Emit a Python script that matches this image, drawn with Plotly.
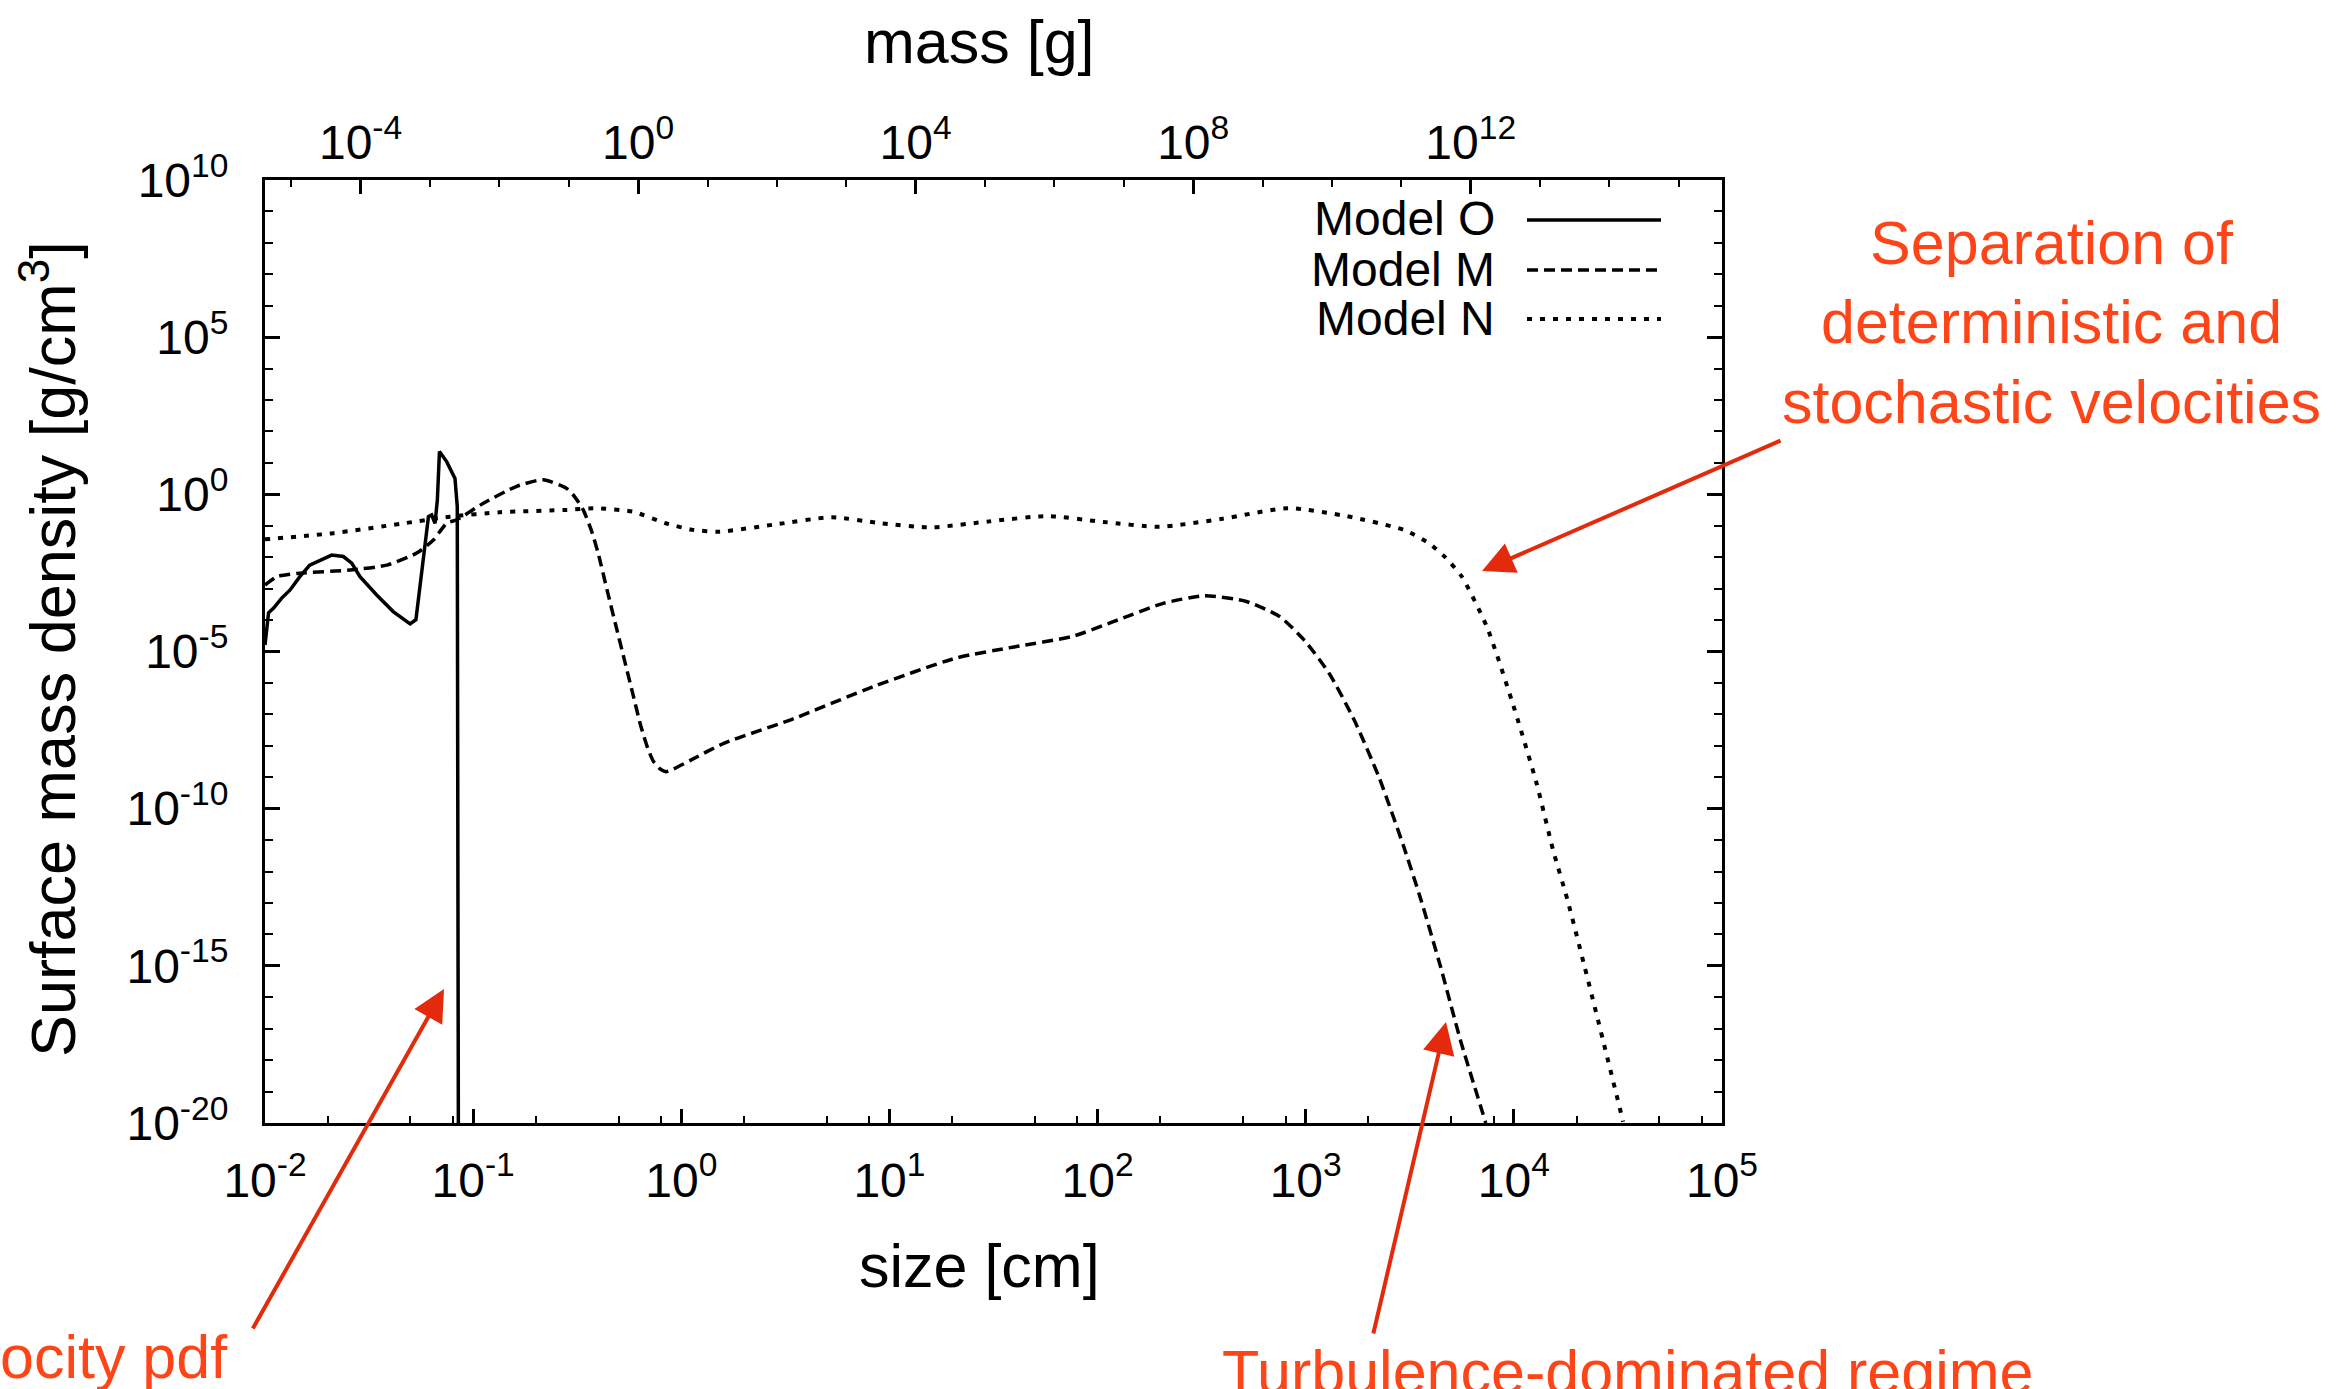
import math
import plotly.graph_objects as go

# ---------------------------------------------------------------------------
# Surface mass density vs. particle size for three models
# size in cm, surface mass density in g/cm^3
# ---------------------------------------------------------------------------
size_O = [1.00e-2, 1.04e-2, 1.10e-2, 1.20e-2, 1.32e-2, 1.47e-2, 1.64e-2, 1.84e-2,
          2.09e-2, 2.38e-2, 2.61e-2, 2.86e-2, 3.44e-2, 4.13e-2, 4.98e-2, 5.31e-2,
          5.56e-2, 5.81e-2, 6.10e-2, 6.32e-2, 6.56e-2, 6.73e-2, 6.89e-2, 7.46e-2,
          8.18e-2, 8.39e-2, 8.49e-2]
sigma_O = [1.6e-5, 1.7e-4, 2.4e-4, 4.9e-4, 9.1e-4, 2.4e-3, 5.6e-3, 8.1e-3,
           1.17e-2, 1.05e-2, 6.5e-3, 2.4e-3, 6.3e-4, 1.86e-4, 7.6e-5, 1.02e-4,
           1.15e-3, 1.7e-2, 0.195, 0.22, 0.12, 0.66, 22.9, 11.0,
           3.2, 0.41, 1e-20]

size_M = [1.00e-2, 1.14e-2, 1.47e-2, 2.56e-2, 3.85e-2, 5.36e-2, 6.44e-2, 7.46e-2,
          8.34e-2, 0.112, 0.162, 0.217, 0.281, 0.307, 0.338, 0.369,
          0.398, 0.444, 0.486, 0.533, 0.585, 0.640, 0.692, 0.735,
          0.785, 0.843, 0.912, 1.11, 1.60, 3.33, 8.36, 20.9,
          39.7, 75.5, 119, 207, 327, 519, 748, 984,
          1297, 1710, 2249, 2958, 3573, 4446, 5534, 7330]
sigma_M = [1.3e-3, 2.4e-3, 3.1e-3, 3.9e-3, 5.6e-3, 1.35e-2, 3.5e-2, 0.12,
           0.155, 0.52, 1.8, 2.9, 1.55, 0.85, 0.32, 7.4e-2,
           1.4e-2, 7.1e-4, 6.3e-5, 5.4e-6, 4.5e-7, 4.1e-8, 7.9e-9, 3.2e-9,
           1.9e-9, 1.5e-9, 1.8e-9, 3.5e-9, 1.2e-8, 6.6e-8, 7.6e-7, 6.2e-6,
           1.4e-5, 3.0e-5, 8.9e-5, 3.4e-4, 5.9e-4, 3.9e-4, 1.3e-4, 2.3e-5,
           2.0e-6, 6.6e-8, 1.0e-9, 6.2e-12, 1.3e-13, 9.3e-16, 4.4e-18, 1e-20]

size_N = [1.00e-2, 2.13e-2, 4.46e-2, 7.74e-2, 0.135, 0.282, 0.389, 0.586,
          0.843, 1.14, 1.53, 2.82, 5.28, 9.12, 15.9, 30.2,
          57.4, 107, 198, 398, 819, 1585, 2958, 3899,
          4677, 5623, 7413, 9750, 12850, 15420, 18070, 21880,
          26790, 33500]
sigma_N = [3.7e-2, 5.8e-2, 0.115, 0.195, 0.27, 0.32, 0.36, 0.28,
           0.12, 7.4e-2, 6.5e-2, 0.11, 0.186, 0.12, 8.9e-2, 0.138,
           0.204, 0.132, 9.3e-2, 0.166, 0.363, 0.20, 7.4e-2, 2.8e-2,
           1.0e-2, 2.4e-3, 6.2e-5, 2.9e-7, 6.5e-10, 4.9e-12, 1.3e-13, 9.3e-16,
           4.4e-18, 1.1e-20]

# axis ranges and ticks
size_range = (1e-2, 1e5)
sigma_range = (1e-20, 1e10)
grain_density = 1.0  # g/cm^3, converts size to mass on the top axis

size_ticks = [1e-2, 1e-1, 1e0, 1e1, 1e2, 1e3, 1e4, 1e5]
size_tick_text = ["10<sup>-2</sup>", "10<sup>-1</sup>", "10<sup>0</sup>", "10<sup>1</sup>",
                  "10<sup>2</sup>", "10<sup>3</sup>", "10<sup>4</sup>", "10<sup>5</sup>"]
mass_ticks = [1e-4, 1e0, 1e4, 1e8, 1e12]
mass_tick_text = ["10<sup>-4</sup>", "10<sup>0</sup>", "10<sup>4</sup>",
                  "10<sup>8</sup>", "10<sup>12</sup>"]
sigma_ticks = [1e-20, 1e-15, 1e-10, 1e-5, 1e0, 1e5, 1e10]
sigma_tick_text = ["10<sup>-20</sup>", "10<sup>-15</sup>", "10<sup>-10</sup>",
                   "10<sup>-5</sup>", "10<sup>0</sup>", "10<sup>5</sup>", "10<sup>10</sup>"]

model_names = ["Model O", "Model M", "Model N"]
model_dash = ["solid", "11px,6px", "5px,8px"]
model_width = [3.5, 3.5, 4]

# ---------------------------------------------------------------------------
W, H = 2342, 1389
ML, MR, MT, MB = 265, 620, 180, 266
PW, PH = W - ML - MR, H - MT - MB


def px(x):
    return (x - ML) / PW


def py(y):
    return (H - MB - y) / PH


BLACK_FONT = "Liberation Sans, Arial, Helvetica, sans-serif"
RED_TEXT = "#FF4518"
RED_ARROW = "#E42A0C"

fig = go.Figure()

fig.add_trace(go.Scatter(x=size_O, y=sigma_O, mode="lines", name=model_names[0],
                         line=dict(color="black", width=model_width[0], dash=model_dash[0]),
                         showlegend=False))
fig.add_trace(go.Scatter(x=size_M, y=sigma_M, mode="lines", name=model_names[1],
                         line=dict(color="black", width=model_width[1], dash=model_dash[1],
                                   shape="spline", smoothing=0.6),
                         showlegend=False))
fig.add_trace(go.Scatter(x=size_N, y=sigma_N, mode="lines", name=model_names[2],
                         line=dict(color="black", width=model_width[2], dash=model_dash[2],
                                   shape="spline", smoothing=0.6),
                         showlegend=False))

# carrier for the mass axis on top
mass_factor = 4.0 / 3.0 * math.pi * grain_density
mass_range = [math.log10(mass_factor) + 3 * math.log10(size_range[0]),
              math.log10(mass_factor) + 3 * math.log10(size_range[1])]
fig.add_trace(go.Scatter(x=[], y=[], xaxis="x2", yaxis="y", mode="lines",
                         showlegend=False, hoverinfo="skip"))

tick_font = dict(family=BLACK_FONT, size=48, color="black")

size_minor = [k * 10.0 ** d for d in range(-2, 5) for k in (2, 5, 8)]
mass_minor = [10.0 ** k for k in range(-5, 16)]
sigma_minor = [10.0 ** k for k in range(-19, 10)]

fig.update_layout(
    template="none",
    width=W, height=H,
    margin=dict(l=ML, r=MR, t=MT, b=MB, pad=0),
    paper_bgcolor="white", plot_bgcolor="white",
    showlegend=False,
    xaxis=dict(
        type="log", range=[math.log10(size_range[0]), math.log10(size_range[1])],
        showgrid=False, zeroline=False,
        showline=True, linecolor="black", linewidth=3, mirror=True,
        ticks="inside", ticklen=14, tickwidth=2.5, tickcolor="black",
        tickmode="array", tickvals=size_ticks, ticktext=size_tick_text,
        tickfont=tick_font, ticklabelstandoff=13,
        minor=dict(tickmode="array", tickvals=size_minor, ticks="inside",
                   ticklen=7, tickwidth=2, tickcolor="black", showgrid=False),
    ),
    xaxis2=dict(
        type="log", range=mass_range, overlaying="x", side="top", anchor="y",
        showgrid=False, zeroline=False, showline=False,
        ticks="inside", ticklen=14, tickwidth=2.5, tickcolor="black",
        tickmode="array", tickvals=mass_ticks, ticktext=mass_tick_text,
        tickfont=tick_font, ticklabelstandoff=10,
        minor=dict(tickmode="array", tickvals=mass_minor, ticks="inside",
                   ticklen=7, tickwidth=2, tickcolor="black", showgrid=False),
    ),
    yaxis=dict(
        type="log", range=[math.log10(sigma_range[0]), math.log10(sigma_range[1])],
        showgrid=False, zeroline=False,
        showline=True, linecolor="black", linewidth=3, mirror="ticks",
        ticks="inside", ticklen=15, tickwidth=2.5, tickcolor="black",
        tickmode="array", tickvals=sigma_ticks, ticktext=sigma_tick_text,
        tickfont=tick_font, ticklabelstandoff=24,
        minor=dict(tickmode="array", tickvals=sigma_minor, ticks="inside",
                   ticklen=8, tickwidth=2, tickcolor="black", showgrid=False),
    ),
)

annotations = []
shapes = []

# axis titles
title_font = dict(family=BLACK_FONT, size=61, color="black")
annotations.append(dict(text="size [cm]", xref="paper", yref="paper",
                        x=px(979), y=py(1266), xanchor="center", yanchor="middle",
                        showarrow=False, font=title_font))
annotations.append(dict(text="mass [g]", xref="paper", yref="paper",
                        x=px(979), y=py(42), xanchor="center", yanchor="middle",
                        showarrow=False, font=title_font))
annotations.append(dict(text="Surface mass density [g/cm<sup>3</sup>]",
                        xref="paper", yref="paper", textangle=-90,
                        x=px(48), y=py(649), xanchor="center", yanchor="middle",
                        showarrow=False, font=dict(family=BLACK_FONT, size=63,
                                                   color="black")))

# key: label on the left, line sample on the right
key_font = dict(family=BLACK_FONT, size=48, color="black")
key_rows = [219, 269, 318]
for name, dash, lw, yrow in zip(model_names, model_dash, model_width, key_rows):
    annotations.append(dict(text=name, xref="paper", yref="paper",
                            x=px(1497), y=py(yrow), xanchor="right", yanchor="middle",
                            showarrow=False, font=key_font))
    shapes.append(dict(type="line", xref="paper", yref="paper",
                       x0=px(1527), x1=px(1661), y0=py(yrow + 1), y1=py(yrow + 1),
                       line=dict(color="black", width=lw, dash=dash)))

# red call-outs
red_font = dict(family=BLACK_FONT, size=61, color=RED_TEXT)
annotations.append(dict(text="Separation of<br>deterministic and<br>stochastic velocities",
                        xref="paper", yref="paper", x=px(2051), y=py(322),
                        xanchor="center", yanchor="middle", align="center",
                        showarrow=False, font=red_font))
annotations.append(dict(text="Turbulence-dominated regime",
                        xref="paper", yref="paper", x=px(1628), y=py(1372),
                        xanchor="center", yanchor="middle",
                        showarrow=False, font=red_font))
annotations.append(dict(text="velocity pdf",
                        xref="paper", yref="paper", x=px(230), y=py(1357),
                        xanchor="right", yanchor="middle",
                        showarrow=False, font=red_font))

arrows = [
    # (head x, head y, tail x, tail y) in page pixels
    (1482, 571, 1782, 440),
    (1446, 1022, 1373, 1335),
    (444, 989, 252, 1330),
]
for hx, hy, tx, ty in arrows:
    annotations.append(dict(text="", xref="paper", yref="paper",
                            x=px(hx), y=py(hy), ax=tx - hx, ay=ty - hy,
                            showarrow=True, arrowhead=2, arrowsize=1.6,
                            arrowwidth=4, arrowcolor=RED_ARROW, standoff=0))

fig.update_layout(annotations=annotations, shapes=shapes)

fig.write_html("out.html")
